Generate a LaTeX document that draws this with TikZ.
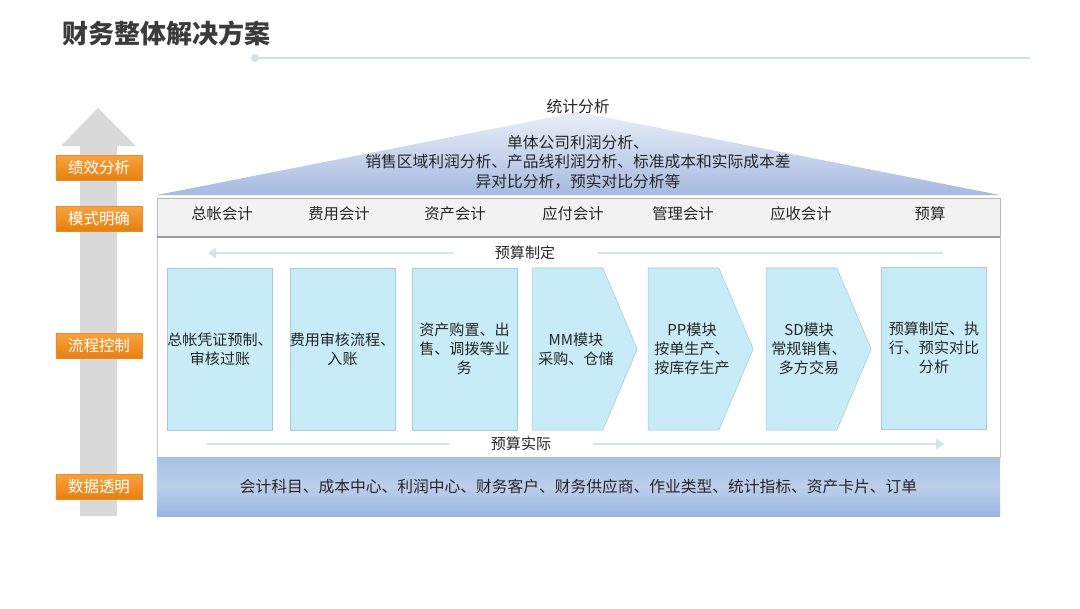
\documentclass[tikz,border=0pt]{standalone}
\usepackage{fontspec}
\setmainfont{Noto Sans CJK SC}
\usetikzlibrary{shapes.symbols,arrows.meta,calc}

\definecolor{titlegray}{HTML}{3B3B3B}
\definecolor{txtgray}{HTML}{262626}
\definecolor{rooftop}{HTML}{E9EFF9}
\definecolor{roofbot}{HTML}{A6BADF}
\definecolor{hdrfill}{HTML}{F2F2F2}
\definecolor{hdrline}{HTML}{B8B8B8}
\definecolor{hdrshadow}{HTML}{9A9A9A}
\definecolor{panelline}{HTML}{C8C8C8}
\definecolor{boxfill}{HTML}{C7ECF8}
\definecolor{boxline}{HTML}{A7CBD9}
\definecolor{flowblue}{HTML}{D2E5EC}
\definecolor{tagtop}{HTML}{F8A23E}
\definecolor{tagbot}{HTML}{E67F10}
\definecolor{datatop}{HTML}{A8C0E4}
\definecolor{datamid}{HTML}{BCCFEB}
\definecolor{databot}{HTML}{99B6E0}
\definecolor{tlinecol}{HTML}{CDE1EE}
\definecolor{arrowgray}{HTML}{D9D9D9}

\begin{document}
\begin{tikzpicture}[x=0.025cm, y=-0.025cm,
  tag/.style={rectangle, minimum width=2.15cm, minimum height=0.62cm, top color=tagtop, bottom color=tagbot, draw=tagbot!90, text=white, font=\fontsize{11pt}{13pt}\selectfont},
  modbox/.style={rectangle, fill=boxfill, draw=boxline, minimum width=2.625cm, minimum height=4.05cm},
  chev/.style={signal, signal to=east, signal from=nowhere, signal pointer angle=134, fill=boxfill, draw=boxline, minimum width=2.625cm, minimum height=4.05cm, inner sep=0pt},
  boxtxt/.style={align=center, text=txtgray, font=\fontsize{10.7pt}{13.6pt}\selectfont},
  hdr/.style={text=txtgray, font=\fontsize{10.9pt}{13pt}\selectfont},
  flowtxt/.style={text=txtgray, inner xsep=1.05cm, font=\fontsize{10.7pt}{13pt}\selectfont},
  flow/.style={line width=2pt, draw=flowblue},
  flowarrow/.style={flow, -{Triangle[length=2mm,width=2.6mm]}},
]
\useasboundingbox (0,0) rectangle (1080,608);

% === Title ===
\node[anchor=west, inner sep=0pt, text=titlegray, font=\fontsize{18.5pt}{20pt}\selectfont\bfseries] (title) at (62,33) {财务整体解决方案};
\coordinate (tlA) at (255,58);
\coordinate (tlB) at (1030,58);
\draw[tlinecol, line width=2pt] (tlA) -- (tlB);
\fill[tlinecol] (tlA) circle (0.1cm);

% === Up arrow and levels ===
\fill[arrowgray] (80,516) -- (80,146) -- (61,146) -- (98,108) -- (136,146) -- (117,146) -- (117,516) -- cycle;

% === Roof ===
\shade[top color=rooftop, bottom color=roofbot] (157,195) -- (578,112) -- (1000,195) -- cycle;
\node[text=txtgray, font=\fontsize{11.2pt}{13pt}\selectfont] (stat) at (578,106) {统计分析};
\node[align=center, text=txtgray, font=\fontsize{11.2pt}{13.9pt}\selectfont] (roofa) at (578,162)
  {单体公司利润分析、\\销售区域利润分析、产品线利润分析、标准成本和实际成本差\\异对比分析，预实对比分析等};

% === Panel and header ===
\node[rectangle, fill=white, draw=panelline, minimum width=21.075cm, minimum height=5.5cm] (panel) at (578.5,347) {};
\node[rectangle, fill=hdrfill, draw=hdrline, minimum width=21.075cm, minimum height=0.975cm] (hdrbar) at (578.5,217.5) {};
\draw[hdrshadow, line width=1.2pt] (hdrbar.south west) -- (hdrbar.south east);
\node[hdr] (h1) at (222,214) {总帐会计};
\node[hdr] (h2) at (339,214) {费用会计};
\node[hdr] (h3) at (455,214) {资产会计};
\node[hdr] (h4) at (573,214) {应付会计};
\node[hdr] (h5) at (683,214) {管理会计};
\node[hdr] (h6) at (801,214) {应收会计};
\node[hdr] (h7) at (930,214) {预算};

% === Budget flows ===
\node[flowtxt] (plan) at (525,253) {预算制定};
\coordinate (planL) at (208,253);
\coordinate (planR) at (943,253);
\draw[flowarrow] (plan) -- (planL);
\draw[flow] (planR) -- (plan);

\node[flowtxt] (act) at (521,444) {预算实际};
\coordinate (actL) at (207,444);
\coordinate (actR) at (944,444);
\draw[flow] (actL) -- (act);
\draw[flowarrow] (act) -- (actR);

% === Process boxes ===
\node[modbox] (gl) at (220,349) {};
\node[boxtxt] at (gl.center) {总帐凭证预制、\\审核过账};
\node[modbox] (fee) at (342.5,349) {};
\node[boxtxt] at (fee.center) {费用审核流程、\\入账};
\node[modbox] (asset) at (464.5,349) {};
\node[boxtxt] at (asset.center) {资产购置、出\\售、调拨等业\\务};
\node[chev] (mm) at (567.5,349) {};
\node[boxtxt] at ($(mm.center)+(8.5,0)$) {MM模块\\采购、仓储};
\node[chev] (pp) at (683.5,349) {};
\node[boxtxt] at ($(pp.center)+(8.5,0)$) {PP模块\\按单生产、\\按库存生产};
\node[chev] (sd) at (801.5,349) {};
\node[boxtxt] at ($(sd.center)+(7.5,0)$) {SD模块\\常规销售、\\多方交易};
\node[modbox] (bud) at (934,348) {};
\node[boxtxt] at (bud.center) {预算制定、执\\行、预实对比\\分析};

% === Master data ===
\node[rectangle, top color=datatop, bottom color=databot, middle color=datamid, minimum width=21.075cm, minimum height=1.475cm, text=txtgray, font=\fontsize{11.2pt}{13pt}\selectfont] (datbar) at (578.5,486.5)
  {会计科目、成本中心、利润中心、财务客户、财务供应商、作业类型、统计指标、资产卡片、订单};

% === Level tags ===
\node[tag] (perf) at (99,168) {绩效分析};
\node[tag] (mode) at (99,219) {模式明确};
\node[tag] (proc) at (99,346) {流程控制};
\node[tag] (data) at (99,487) {数据透明};

\end{tikzpicture}
\end{document}
